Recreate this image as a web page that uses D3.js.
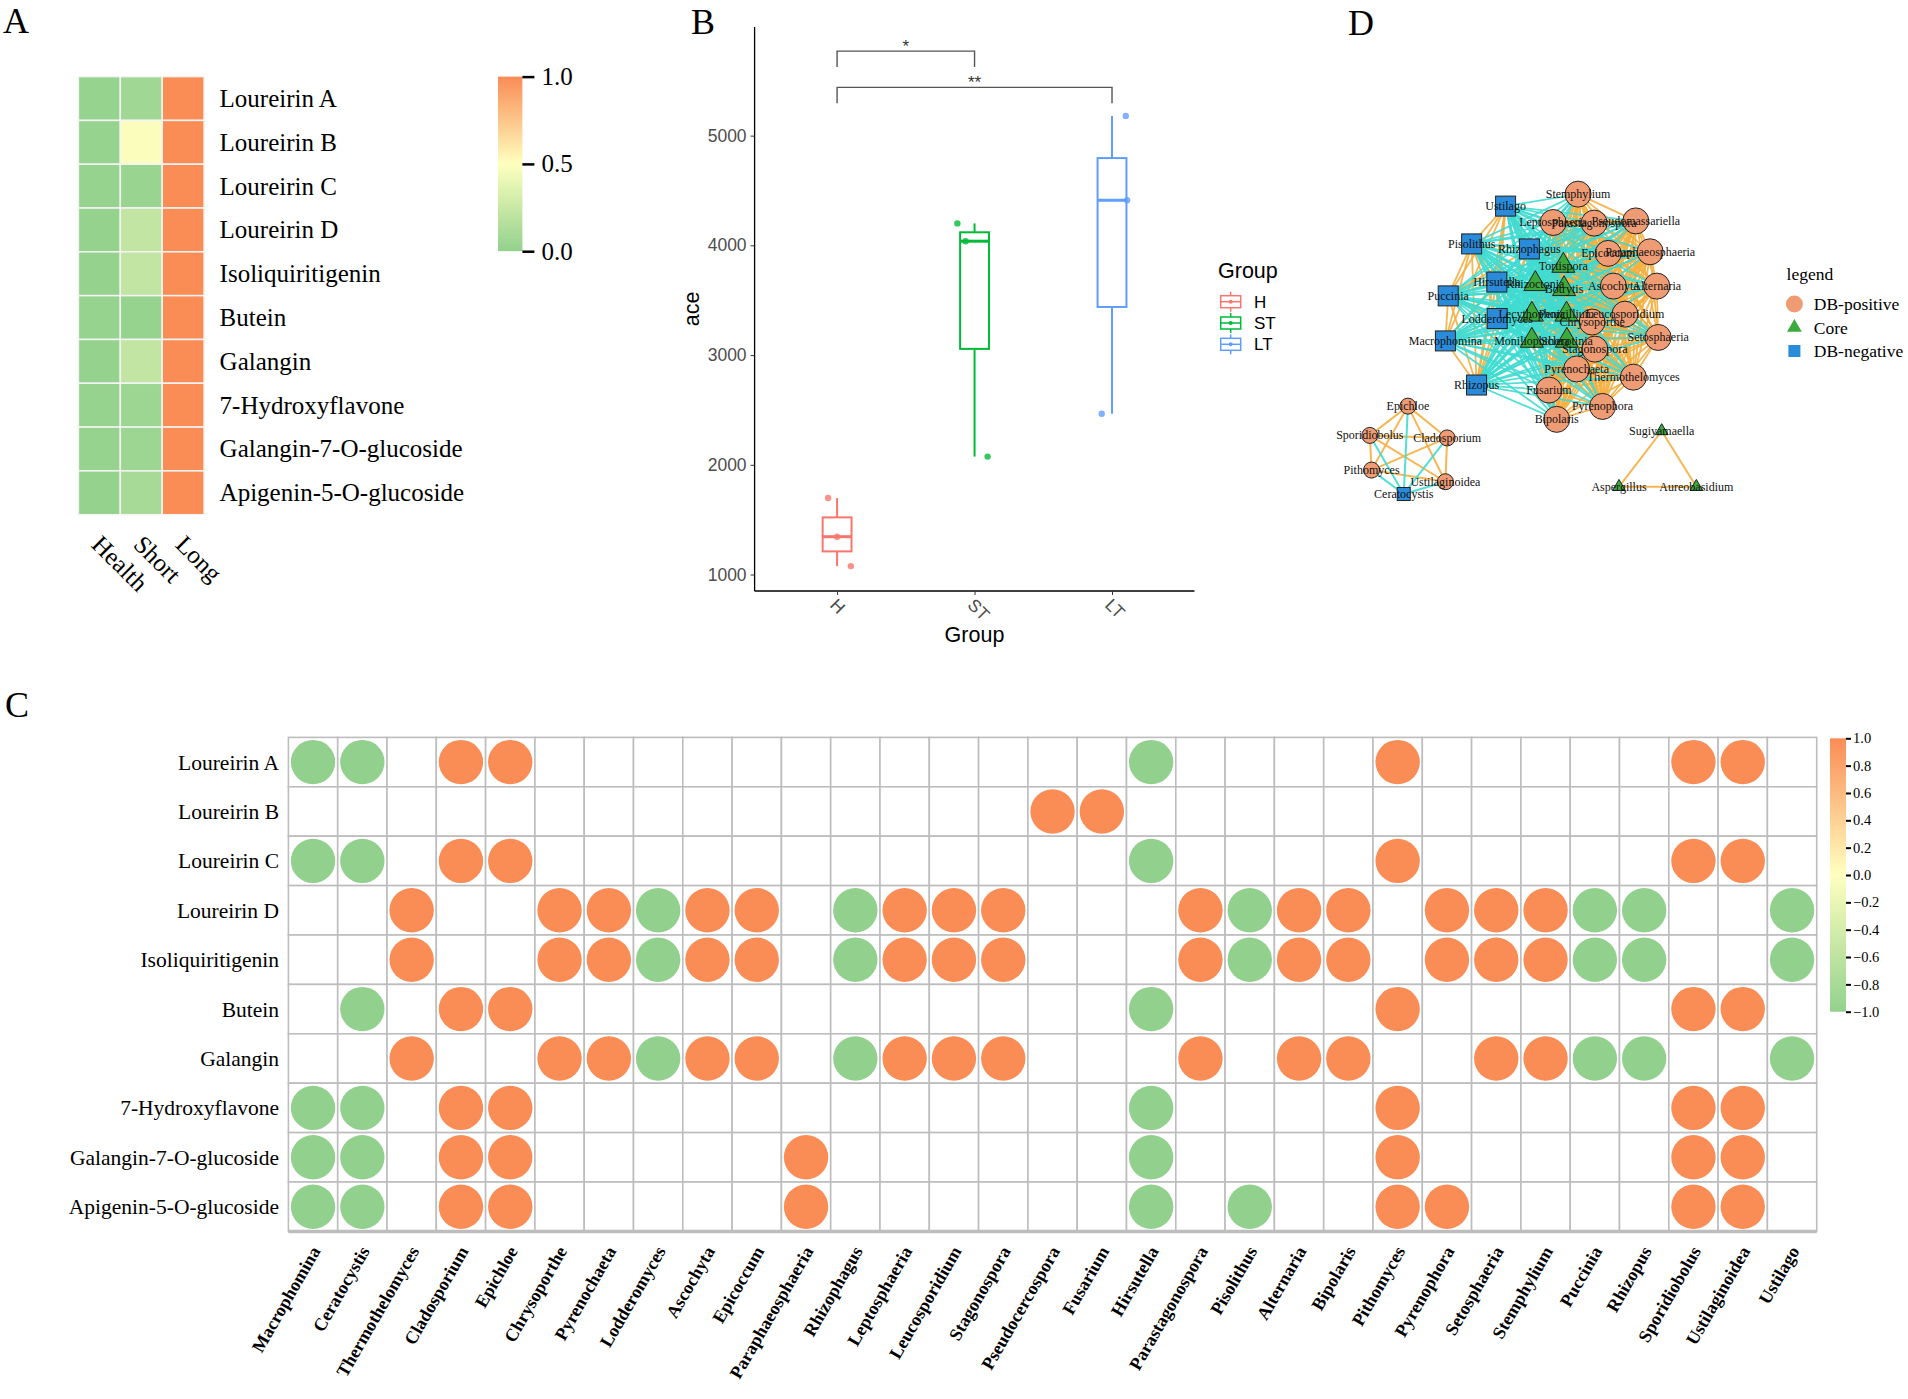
<!DOCTYPE html>
<html>
<head>
<meta charset="utf-8">
<script src="https://cdn.jsdelivr.net/npm/d3@7"></script>
<style>
  body { margin: 0; background: #fff; }
  svg { display: block; }
</style>
</head>
<body>
<svg id="fig" width="1908" height="1399"></svg>
<script>
// ---- data ----

// panel A / C rows
const compounds = ["Loureirin A", "Loureirin B", "Loureirin C", "Loureirin D", "Isoliquiritigenin",
  "Butein", "Galangin", "7-Hydroxyflavone", "Galangin-7-O-glucoside", "Apigenin-5-O-glucoside"]
const stages = ["Health", "Short", "Long"]
const healthVals = [0.02, 0.02, 0.02, 0.01, 0.01, 0.02, 0.01, 0.02, 0.02, 0.01]
const shortVals = [0.07, 0.48, 0.03, 0.22, 0.22, 0.02, 0.22, 0.05, 0.05, 0.10]
const longVals = [1, 1, 1, 1, 1, 1, 1, 1, 1, 1]
const heatTicks = [0, 0.5, 1]

// panel B
const groups = ["H", "ST", "LT"]
const groupCols = ["#F8766D", "#00BA38", "#619CFF"]
const aceH = [1697, 1345, 1077]
const aceST = [4200, 4038, 2075]
const aceLT = [5180, 4411, 2466]
const jitterH = [-0.065, 0, 0.1]      // fraction of step
const jitterST = [-0.125, -0.065, 0.095]
const jitterLT = [0.1, 0.11, -0.075]
const aceTicks = [1000, 2000, 3000, 4000, 5000]
const sigPairs = [["H", "ST", "*", 5770], ["H", "LT", "**", 5440]]

// panel C
const genera = ["Macrophomina", "Ceratocystis", "Thermothelomyces", "Cladosporium", "Epichloe", "Chrysoporthe",
  "Pyrenochaeta", "Lodderomyces", "Ascochyta", "Epicoccum", "Paraphaeosphaeria", "Rhizophagus", "Leptosphaeria",
  "Leucosporidium", "Stagonospora", "Pseudocercospora", "Fusarium", "Hirsutella", "Parastagonospora", "Pisolithus",
  "Alternaria", "Bipolaris", "Pithomyces", "Pyrenophora", "Setosphaeria", "Stemphylium", "Puccinia", "Rhizopus",
  "Sporidiobolus", "Ustilaginoidea", "Ustilago"]
const corrLoureirinA = [-1,-1,0,1,1,0,0,0,0,0,0,0,0,0,0,0,0,-1,0,0,0,0,1,0,0,0,0,0,1,1,0]
const corrLoureirinB = [0,0,0,0,0,0,0,0,0,0,0,0,0,0,0,1,1,0,0,0,0,0,0,0,0,0,0,0,0,0,0]
const corrLoureirinC = [-1,-1,0,1,1,0,0,0,0,0,0,0,0,0,0,0,0,-1,0,0,0,0,1,0,0,0,0,0,1,1,0]
const corrLoureirinD = [0,0,1,0,0,1,1,-1,1,1,0,-1,1,1,1,0,0,0,1,-1,1,1,0,1,1,1,-1,-1,0,0,-1]
const corrIsoliq = [0,0,1,0,0,1,1,-1,1,1,0,-1,1,1,1,0,0,0,1,-1,1,1,0,1,1,1,-1,-1,0,0,-1]
const corrButein = [0,-1,0,1,1,0,0,0,0,0,0,0,0,0,0,0,0,-1,0,0,0,0,1,0,0,0,0,0,1,1,0]
const corrGalangin = [0,0,1,0,0,1,1,-1,1,1,0,-1,1,1,1,0,0,0,1,0,1,1,0,0,1,1,-1,-1,0,0,-1]
const corrHydroxy = [-1,-1,0,1,1,0,0,0,0,0,0,0,0,0,0,0,0,-1,0,0,0,0,1,0,0,0,0,0,1,1,0]
const corrGal7 = [-1,-1,0,1,1,0,0,0,0,0,1,0,0,0,0,0,0,-1,0,0,0,0,1,0,0,0,0,0,1,1,0]
const corrApi5 = [-1,-1,0,1,1,0,0,0,0,0,1,0,0,0,0,0,0,-1,0,-1,0,0,1,1,0,0,0,0,1,1,0]
const corrTicks = [-1, -0.8, -0.6, -0.4, -0.2, 0, 0.2, 0.4, 0.6, 0.8, 1]

// panel D (layout units 0-100)
const netNames = ["Ustilago", "Pisolithus", "Rhizophagus", "Hirsutella", "Puccinia", "Lodderomyces", "Macrophomina", "Rhizopus",
  "Tortispora", "Rhizoctonia", "Botrytis", "Lecythophora", "Penicillium", "Moniliophthora", "Sclerotinia",
  "Stemphylium", "Leptosphaeria", "Parastagonospora", "Pseudomassariella", "Epicoccum", "Paraphaeosphaeria", "Ascochyta",
  "Alternaria", "Leucosporidium", "Chrysoporthe", "Setosphaeria", "Stagonospora", "Pyrenochaeta", "Thermothelomyces",
  "Fusarium", "Pyrenophora", "Bipolaris",
  "Epichloe", "Sporidiobolus", "Cladosporium", "Pithomyces", "Ustilaginoidea", "Ceratocystis",
  "Sugiyamaella", "Aspergillus", "Aureobasidium"]
const netGroups = ["neg","neg","neg","neg","neg","neg","neg","neg",
  "core","core","core","core","core","core","core",
  "pos","pos","pos","pos","pos","pos","pos","pos","pos","pos","pos","pos","pos","pos","pos","pos","pos",
  "pos","pos","pos","pos","pos","neg",
  "core","core","core"]
const netComp = [0,0,0,0,0,0,0,0, 0,0,0,0,0,0,0, 0,0,0,0,0,0,0,0,0,0,0,0,0,0,0,0,0, 1,1,1,1,1,1, 2,2,2]
const netLX = [41.6, 31.9, 48.4, 39.1, 25.2, 39.2, 24.4, 33.3,
  58.1, 50.1, 58.3, 49.1, 59.0, 49.1, 59.1,
  62.3, 55.2, 66.9, 78.8, 70.9, 82.9, 72.4, 84.8, 75.7, 66.3, 85.2, 67.1, 61.9, 78.1, 54.0, 69.3, 56.2,
  13.7, 2.8, 24.9, 3.3, 24.4, 12.5,
  86.2, 74.0, 96.1]
const netLY = [6.7, 18.7, 20.3, 30.8, 35.2, 42.4, 49.5, 63.5,
  25.6, 31.4, 33.0, 41.1, 41.1, 49.4, 49.4,
  2.9, 11.9, 12.1, 11.4, 21.7, 21.2, 32.1, 32.1, 41.0, 43.5, 48.4, 52.1, 58.4, 61.0, 65.1, 70.3, 74.4,
  70.2, 79.5, 80.3, 90.5, 94.2, 98.1,
  78.1, 95.8, 95.8]
const legendGroups = ["pos", "core", "neg"]
const legendLabels = ["DB-positive", "Core", "DB-negative"]

// ---- shared ----
const svg = d3.select("#fig")
const serif = "'Liberation Serif', 'Times New Roman', serif"
const sans = "'Liberation Sans', Arial, sans-serif"
const lowCol = "#92D18D", midCol = "#FFFFBF", highCol = "#FA8C56"

function panelLetter(t, x, y) {
  svg.append("text").attr("x", x).attr("y", y).text(t)
    .style("font-family", serif).style("font-size", "36px")
}

// ---- panel A ----
function drawHeatmap() {
  let g = svg.append("g")
  let x = d3.scaleBand().domain(stages).range([78.4, 204.1])
  let y = d3.scaleBand().domain(compounds).range([76.6, 514.7])
  let color = d3.scaleLinear().domain([0, 0.5, 1]).range([lowCol, midCol, highCol])
  let series = [healthVals, shortVals, longVals]
  let cells = []
  stages.forEach((s, j) => compounds.forEach((c, i) => cells.push({ s: s, c: c, v: series[j][i] })))

  g.selectAll("rect.cell").data(cells).join("rect")
    .attr("x", d => x(d.s)).attr("y", d => y(d.c))
    .attr("width", x.bandwidth()).attr("height", y.bandwidth())
    .attr("fill", d => color(d.v))
    .attr("stroke", "#f4f4f4").attr("stroke-width", 1.5)

  g.selectAll("text.row").data(compounds).join("text")
    .attr("x", 219.6).attr("y", d => y(d) + y.bandwidth() / 2 + 8.5)
    .text(d => d)
    .style("font-family", serif).style("font-size", "25px")

  g.selectAll("text.col").data(stages).join("text")
    .attr("transform", d => `translate(${x(d) + x.bandwidth() / 2 - 9},${546}) rotate(45)`)
    .text(d => d)
    .style("font-family", serif).style("font-size", "25px")

  // colour key
  let defs = svg.select("defs")
  let grad = defs.append("linearGradient").attr("id", "gradA")
    .attr("x1", 0).attr("x2", 0).attr("y1", 1).attr("y2", 0)
  d3.range(0, 1.001, 0.1).forEach(t => grad.append("stop").attr("offset", t).attr("stop-color", color(t)))
  let ky = d3.scaleLinear().domain([0, 1]).range([251.2, 76.6])
  g.append("rect").attr("x", 498).attr("y", ky(1)).attr("width", 24.4).attr("height", ky(0) - ky(1))
    .attr("fill", "url(#gradA)")
  let ax = g.append("g").attr("transform", "translate(522.4,0)")
    .call(d3.axisRight(ky).tickValues(heatTicks).tickSize(12).tickPadding(7).tickFormat(d3.format(".1f")))
  ax.select(".domain").remove()
  ax.selectAll("line").attr("stroke", "#000").attr("stroke-width", 2.5)
  ax.selectAll("text").style("font-family", serif).style("font-size", "25px").attr("fill", "#000")
}

// ---- panel B ----
function drawBoxplot() {
  let g = svg.append("g")
  let x = d3.scalePoint().domain(groups).range([754.6, 1194.5]).padding(0.6)
  let y = d3.scaleLinear().domain([850, 5990]).range([591, 27])
  let step = x.step()
  let bw = 0.21 * step
  let vals = [aceH, aceST, aceLT]
  let jit = [jitterH, jitterST, jitterLT]

  let stats = groups.map((gname, i) => {
    let s = vals[i].slice().sort(d3.ascending)
    return {
      g: gname, col: groupCols[i],
      q1: d3.quantile(s, 0.25), med: d3.quantile(s, 0.5), q3: d3.quantile(s, 0.75),
      lo: d3.min(s), hi: d3.max(s)
    }
  })

  // whiskers
  g.selectAll("line.wh").data(stats).join("line")
    .attr("x1", d => x(d.g)).attr("x2", d => x(d.g))
    .attr("y1", d => y(d.hi)).attr("y2", d => y(d.lo))
    .attr("stroke", d => d.col).attr("stroke-width", 2)
  g.selectAll("rect.box").data(stats).join("rect")
    .attr("x", d => x(d.g) - bw / 2).attr("width", bw)
    .attr("y", d => y(d.q3)).attr("height", d => y(d.q1) - y(d.q3))
    .attr("fill", "#fff").attr("stroke", d => d.col).attr("stroke-width", 2)

  // points
  let pts = []
  groups.forEach((gname, i) => vals[i].forEach((v, k) => pts.push({ g: gname, v: v, j: jit[i][k], col: groupCols[i] })))
  g.selectAll("circle.pt").data(pts).join("circle")
    .attr("cx", d => x(d.g) + d.j * step).attr("cy", d => y(d.v)).attr("r", 3.2)
    .attr("fill", d => d.col).attr("opacity", 0.8)

  g.selectAll("line.med").data(stats).join("line")
    .attr("x1", d => x(d.g) - bw / 2).attr("x2", d => x(d.g) + bw / 2)
    .attr("y1", d => y(d.med)).attr("y2", d => y(d.med))
    .attr("stroke", d => d.col).attr("stroke-width", 3)

  // axes
  let ya = g.append("g").attr("transform", "translate(754.6,0)")
    .call(d3.axisLeft(y).tickValues(aceTicks).tickSize(4).tickPadding(4).tickFormat(d3.format("d")))
  ya.select(".domain").attr("d", `M0,${y.range()[1]}V${y.range()[0]}`).attr("stroke", "#000").attr("stroke-width", 1.3)
  ya.selectAll("line").attr("stroke", "#333")
  ya.selectAll("text").style("font-family", sans).style("font-size", "17.5px").attr("fill", "#4D4D4D")

  let xa = g.append("g").attr("transform", "translate(0,591)")
    .call(d3.axisBottom(x).tickSize(4).tickFormat(""))
  xa.select(".domain").attr("d", "M754.6,0H1194.5").attr("stroke", "#000").attr("stroke-width", 1.3)
  xa.selectAll("line").attr("stroke", "#333")
  g.selectAll("text.xt").data(groups).join("text")
    .attr("transform", d => `translate(${x(d) - 8},${606}) rotate(45)`)
    .text(d => d)
    .style("font-family", sans).style("font-size", "17.5px").attr("fill", "#4D4D4D")

  g.append("text").attr("x", 974.5).attr("y", 642).attr("text-anchor", "middle").text("Group")
    .style("font-family", sans).style("font-size", "21.5px")
  g.append("text").attr("transform", "translate(699,309) rotate(-90)").attr("text-anchor", "middle").text("ace")
    .style("font-family", sans).style("font-size", "21.5px")

  // significance brackets
  let drop = 145
  sigPairs.forEach(p => {
    let x1 = x(p[0]), x2 = x(p[1]), yy = y(p[3]), yd = y(p[3] - drop)
    g.append("path").attr("d", `M${x1},${yd}V${yy}H${x2}V${yd}`)
      .attr("fill", "none").attr("stroke", "#555").attr("stroke-width", 1.4)
    g.append("text").attr("x", (x1 + x2) / 2).attr("y", yy + 1).attr("text-anchor", "middle").text(p[2])
      .style("font-family", sans).style("font-size", "17px").attr("fill", "#333")
  })

  // legend
  let lg = g.append("g")
  lg.append("text").attr("x", 1218).attr("y", 278).text("Group")
    .style("font-family", sans).style("font-size", "21.5px")
  let ly = d3.scalePoint().domain(groups).range([301.7, 344.3])
  groups.forEach((gname, i) => {
    let cy = ly(gname), cx = 1230.7, c = groupCols[i]
    lg.append("line").attr("x1", cx).attr("x2", cx).attr("y1", cy - 10).attr("y2", cy + 10)
      .attr("stroke", c).attr("stroke-width", 1.5)
    lg.append("rect").attr("x", cx - 10).attr("y", cy - 6).attr("width", 20).attr("height", 12)
      .attr("fill", "#fff").attr("stroke", c).attr("stroke-width", 1.5)
    lg.append("line").attr("x1", cx - 10).attr("x2", cx + 10).attr("y1", cy).attr("y2", cy)
      .attr("stroke", c).attr("stroke-width", 1.5)
    lg.append("circle").attr("cx", cx).attr("cy", cy).attr("r", 2).attr("fill", c)
    lg.append("text").attr("x", 1254).attr("y", cy + 6).text(gname)
      .style("font-family", sans).style("font-size", "17px")
  })
}

// ---- panel C ----
function drawCorr() {
  let g = svg.append("g")
  let rowsData = [corrLoureirinA, corrLoureirinB, corrLoureirinC, corrLoureirinD, corrIsoliq,
    corrButein, corrGalangin, corrHydroxy, corrGal7, corrApi5]
  let x = d3.scaleBand().domain(genera).range([288.4, 1816.7])
  let y = d3.scaleBand().domain(compounds).range([737.4, 1231.4])
  let color = d3.scaleLinear().domain([-1, 0, 1]).range([lowCol, midCol, highCol])
  let rMax = 22.2

  let cells = []
  compounds.forEach((c, i) => genera.forEach((ge, j) => cells.push({ c: c, ge: ge, v: rowsData[i][j] })))

  g.selectAll("rect.cell").data(cells).join("rect")
    .attr("x", d => x(d.ge)).attr("y", d => y(d.c))
    .attr("width", x.bandwidth()).attr("height", y.bandwidth())
    .attr("fill", "#fff").attr("stroke", "#BDBDBD").attr("stroke-width", 1.6)
  g.append("line").attr("x1", 288.4).attr("x2", 1816.7).attr("y1", 1231.4).attr("y2", 1231.4)
    .attr("stroke", "#BDBDBD").attr("stroke-width", 3.5)

  g.selectAll("circle.c").data(cells.filter(d => d.v !== 0)).join("circle")
    .attr("cx", d => x(d.ge) + x.bandwidth() / 2).attr("cy", d => y(d.c) + y.bandwidth() / 2)
    .attr("r", d => rMax * Math.sqrt(Math.abs(d.v)))
    .attr("fill", d => color(d.v))

  g.selectAll("text.row").data(compounds).join("text")
    .attr("x", 279).attr("y", d => y(d) + y.bandwidth() / 2 + 7.5)
    .attr("text-anchor", "end").text(d => d)
    .style("font-family", serif).style("font-size", "21.5px")

  g.selectAll("text.col").data(genera).join("text")
    .attr("transform", d => `translate(${x(d) + x.bandwidth() / 2 + 8},${1251}) rotate(-60)`)
    .attr("text-anchor", "end").text(d => d)
    .style("font-family", serif).style("font-size", "18px").style("font-weight", "bold")

  // colour key
  let grad = svg.select("defs").append("linearGradient").attr("id", "gradC")
    .attr("x1", 0).attr("x2", 0).attr("y1", 1).attr("y2", 0)
  d3.range(-1, 1.001, 0.1).forEach(t => grad.append("stop").attr("offset", (t + 1) / 2).attr("stop-color", color(t)))
  let ky = d3.scaleLinear().domain([-1, 1]).range([1011.7, 738.3])
  g.append("rect").attr("x", 1830).attr("y", ky(1)).attr("width", 16).attr("height", ky(-1) - ky(1))
    .attr("fill", "url(#gradC)")
  let ax = g.append("g").attr("transform", "translate(1846,0)")
    .call(d3.axisRight(ky).tickValues(corrTicks).tickSize(5).tickPadding(2).tickFormat(d3.format(".1f")))
  ax.select(".domain").remove()
  ax.selectAll("line").attr("stroke", "#000").attr("stroke-width", 2)
  ax.selectAll("text").style("font-family", serif).style("font-size", "14.5px").attr("fill", "#000")
}

// ---- panel D ----
function drawNetwork() {
  let g = svg.append("g")
  let x = d3.scaleLinear().domain([0, 100]).range([1360, 1710])
  let y = d3.scaleLinear().domain([0, 100]).range([185, 500])
  let fill = { pos: "#EF9B74", core: "#3DAA3D", neg: "#2A8BDA" }
  let sign = { pos: 1, core: 1, neg: -1 }

  let nodes = netNames.map((n, i) => ({ name: n, grp: netGroups[i], comp: netComp[i], x: x(netLX[i]), y: y(netLY[i]) }))
  let links = []
  nodes.forEach((a, i) => nodes.forEach((b, j) => {
    if (j > i && a.comp === b.comp) links.push({ a: a, b: b, pos: sign[a.grp] * sign[b.grp] > 0 })
  }))
  links.sort((p, q) => (q.pos ? 1 : 0) - (p.pos ? 1 : 0))

  g.selectAll("line.edge").data(links).join("line")
    .attr("x1", d => d.a.x).attr("y1", d => d.a.y).attr("x2", d => d.b.x).attr("y2", d => d.b.y)
    .attr("stroke", d => d.pos ? "#F5B041" : "#40DCD2")
    .attr("stroke-width", d => d.a.comp === 0 ? 1.8 : 2)
    .attr("opacity", 0.9)

  let big = d => d.comp === 0
  let sq = nodes.filter(d => d.grp === "neg")
  g.selectAll("rect.node").data(sq).join("rect")
    .attr("x", d => d.x - (big(d) ? 10 : 6.5)).attr("y", d => d.y - (big(d) ? 10 : 6.5))
    .attr("width", d => big(d) ? 20 : 13).attr("height", d => big(d) ? 20 : 13)
    .attr("fill", fill.neg).attr("stroke", "#222").attr("stroke-width", 1)
  let tri = nodes.filter(d => d.grp === "core")
  g.selectAll("path.node").data(tri).join("path")
    .attr("transform", d => `translate(${d.x},${d.y})`)
    .attr("d", d => d3.symbol().type(d3.symbolTriangle).size(big(d) ? 230 : 70)())
    .attr("fill", fill.core).attr("stroke", "#222").attr("stroke-width", 1)
  let ci = nodes.filter(d => d.grp === "pos")
  g.selectAll("circle.node").data(ci).join("circle")
    .attr("cx", d => d.x).attr("cy", d => d.y).attr("r", d => big(d) ? 13 : 8)
    .attr("fill", fill.pos).attr("stroke", "#222").attr("stroke-width", 1)

  g.selectAll("text.lab").data(nodes).join("text")
    .attr("x", d => d.x).attr("y", d => d.y + 4).attr("text-anchor", "middle").text(d => d.name)
    .style("font-family", serif).style("font-size", "12px").attr("fill", "#111")

  // legend
  let lg = g.append("g")
  lg.append("text").attr("x", 1786.6).attr("y", 279.6).text("legend")
    .style("font-family", serif).style("font-size", "17.5px")
  let ly = d3.scalePoint().domain(legendGroups).range([304, 351])
  legendGroups.forEach((k, i) => {
    let cy = ly(k)
    if (k === "pos") lg.append("circle").attr("cx", 1794.4).attr("cy", cy).attr("r", 8.5).attr("fill", fill.pos)
    if (k === "core") lg.append("path").attr("transform", `translate(1794.4,${cy})`)
      .attr("d", d3.symbol().type(d3.symbolTriangle).size(95)()).attr("fill", fill.core)
    if (k === "neg") lg.append("rect").attr("x", 1788.4).attr("y", cy - 6).attr("width", 12).attr("height", 12).attr("fill", fill.neg)
    lg.append("text").attr("x", 1813.8).attr("y", cy + 6).text(legendLabels[i])
      .style("font-family", serif).style("font-size", "17.5px")
  })
}

svg.append("defs")
drawHeatmap()
drawBoxplot()
drawCorr()
drawNetwork()
panelLetter("A", 3, 33)
panelLetter("B", 691, 34)
panelLetter("C", 5, 717)
panelLetter("D", 1348, 35)
</script>
</body>
</html>
